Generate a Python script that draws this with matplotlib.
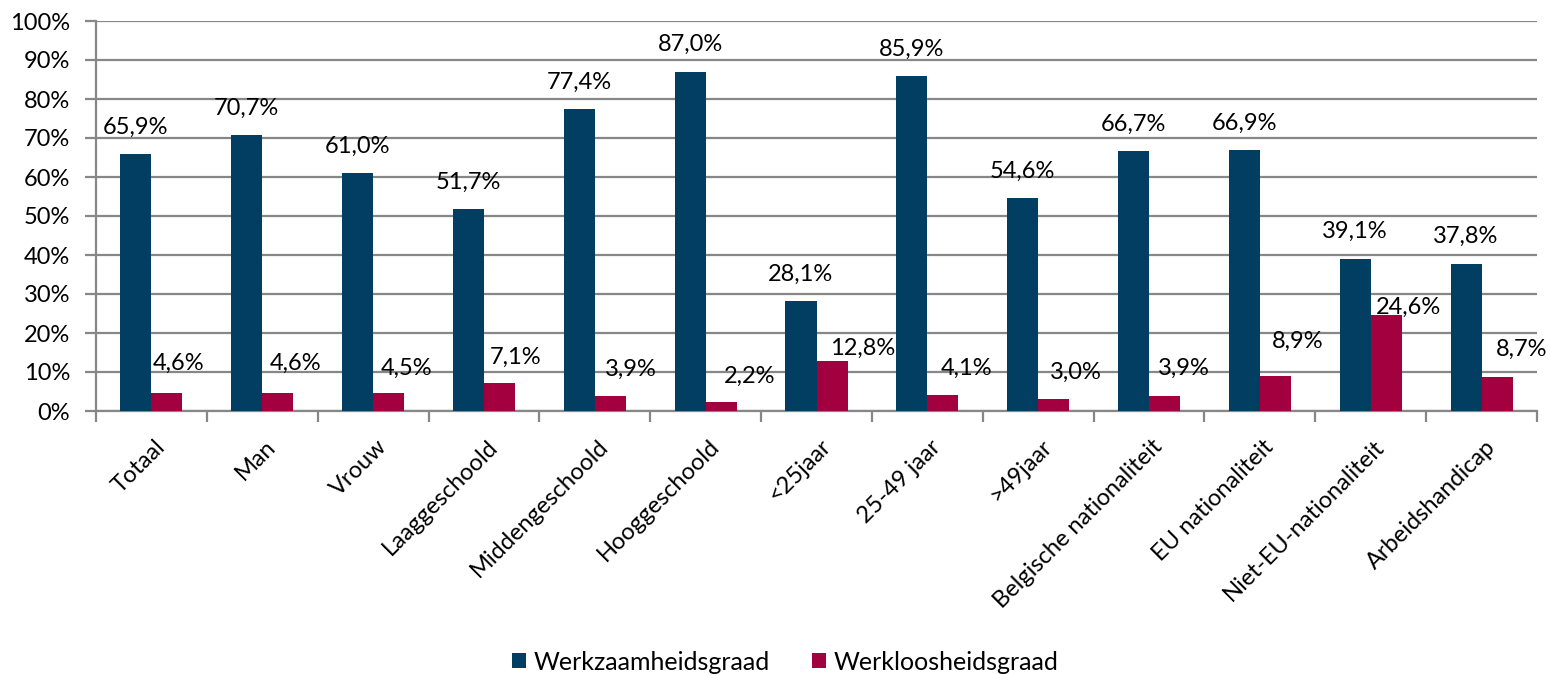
import matplotlib
matplotlib.use("Agg")
import matplotlib.pyplot as plt
from matplotlib.ticker import FixedLocator, PercentFormatter
from matplotlib.transforms import ScaledTranslation
import numpy as np

categories = ["Totaal", "Man", "Vrouw", "Laaggeschoold", "Middengeschoold",
              "Hooggeschoold", "<25jaar", "25-49 jaar", ">49jaar",
              "Belgische nationaliteit", "EU nationaliteit",
              "Niet-EU-nationaliteit", "Arbeidshandicap"]
werkzaamheid = [65.9, 70.7, 61.0, 51.7, 77.4, 87.0, 28.1, 85.9, 54.6, 66.7, 66.9, 39.1, 37.8]
werkloosheid = [4.6, 4.6, 4.5, 7.1, 3.9, 2.2, 12.8, 4.1, 3.0, 3.9, 8.9, 24.6, 8.7]
series_names = ["Werkzaamheidsgraad", "Werkloosheidsgraad"]

# label offsets (pixels) for the red-series labels, as placed in the original
red_dx = [12, 18, 18, 16, 21, 28, 31, 24, 22, 19, 22, 22, 25]
red_dy = [30, 30, 25, 26, 26, 26, 13, 27, 27, 27, 35, 8, 28]

BLUE = "#023E62"
RED = "#A3003F"
GRID = "#878787"
FONT = "Lato"
FS = 17

plt.rcParams['font.family'] = [FONT, 'DejaVu Sans']

fig = plt.figure(figsize=(15.5, 6.74), dpi=100)
ax = fig.add_axes([96/1550, 1-411/674, (1537-96)/1550, (411-21)/674])

x = np.arange(len(categories))
w = 0.28
b1 = ax.bar(x - w/2, werkzaamheid, width=w, color=BLUE, label=series_names[0], zorder=3)
b2 = ax.bar(x + w/2, werkloosheid, width=w, color=RED, label=series_names[1], zorder=3)

ax.set_xlim(-0.5, len(categories) - 0.5)
ax.set_ylim(0, 100)
ax.yaxis.set_major_locator(FixedLocator(np.arange(0, 101, 10)))
ax.yaxis.set_major_formatter(PercentFormatter(decimals=0))
ax.grid(axis='y', color=GRID, linewidth=1.6, zorder=0)
for s in ['top', 'right']:
    ax.spines[s].set_visible(False)
for s in ['left', 'bottom']:
    ax.spines[s].set_color(GRID)
    ax.spines[s].set_linewidth(1.6)
ax.tick_params(axis='y', colors=GRID, length=8, width=1.6, labelcolor='black',
               labelsize=FS, pad=10.5)

ax.set_xticks(x)
ax.set_xticks(np.arange(-0.5, len(categories), 1.0), minor=True)
ax.tick_params(axis='x', which='major', length=0, pad=18)
ax.tick_params(axis='x', which='minor', length=8, width=1.6, color=GRID)
ax.set_xticklabels(categories, rotation=45, ha='right', va='top',
                   rotation_mode='anchor', fontsize=FS)
shift = ScaledTranslation(3/100, 0, fig.dpi_scale_trans)
for lab in ax.get_xticklabels():
    lab.set_transform(lab.get_transform() + shift)

def fmt(v):
    return f"{v:.1f}%".replace(".", ",")

for xi, v in zip(x, werkzaamheid):
    ax.annotate(fmt(v), (xi - w/2, v), xytext=(0, 27), textcoords='offset pixels',
                ha='center', va='center', fontsize=FS, zorder=4)
for xi, v, dx, dy in zip(x, werkloosheid, red_dx, red_dy):
    ax.annotate(fmt(v), (xi + w/2, v), xytext=(dx, dy), textcoords='offset pixels',
                ha='center', va='center', fontsize=FS, zorder=4)

leg = fig.legend(handles=[b1, b2], labels=series_names, loc='center',
                 bbox_to_anchor=(785/1550, 1-662/674), ncol=2, frameon=False,
                 fontsize=18, handlelength=0.56, handleheight=0.56, handletextpad=0.3,
                 columnspacing=1.7, borderpad=0, borderaxespad=0)

fig.savefig("out.png", dpi=100)
